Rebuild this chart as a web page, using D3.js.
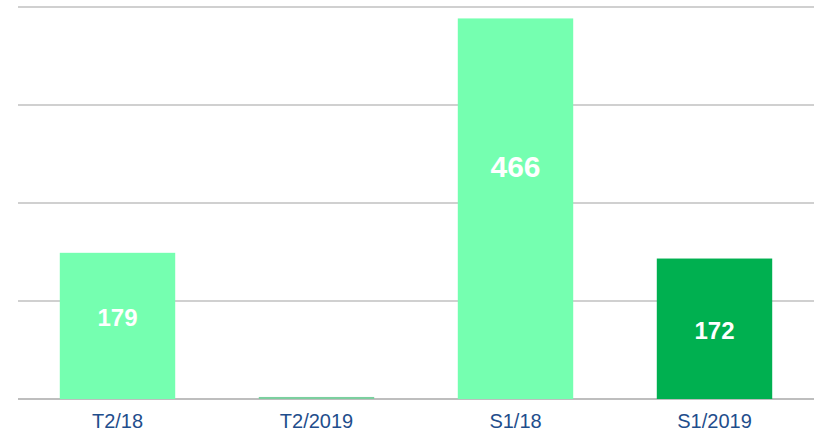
<!DOCTYPE html>
<html>
<head>
<meta charset="utf-8">
<script src="https://cdn.jsdelivr.net/npm/d3@7"></script>
<style>
  html, body { margin: 0; padding: 0; background: #ffffff; }
  svg { display: block; }
</style>
</head>
<body>
<svg id="chart" width="814" height="434"></svg>
<script>
// Data
const categories = ["T2/18", "T2/2019", "S1/18", "S1/2019"];
const values = [179, 2.5, 466, 172];
const valueLabels = ["179", "", "466", "172"];
const barColors = ["#75ffb0", "#7ccf9f", "#75ffb0", "#00b050"];
const gridTicks = [0, 120, 240, 360, 480];
// label vertical anchor as fraction of bar height from top (layout)
const labelAnchor = [0.44, 0.5, 0.39, 0.51];
const labelSizes = [24, 24, 30, 24];

const svg = d3.select("#chart");
const W = 814, H = 434;
const margin = { left: 18, right: 0, top: 7, bottom: 35 };

const x = d3.scaleBand()
  .domain(categories)
  .range([margin.left, W - margin.right])
  .paddingInner(0.42)
  .paddingOuter(0.21);

const y = d3.scaleLinear()
  .domain([0, 480])
  .range([H - margin.bottom, margin.top]);

// gridlines (including baseline)
svg.append("g")
  .selectAll("line")
  .data(gridTicks)
  .join("line")
  .attr("x1", margin.left)
  .attr("x2", W - margin.right)
  .attr("y1", d => y(d))
  .attr("y2", d => y(d))
  .attr("stroke", d => d === 0 ? "#a8a8a8" : "#c0c0c0")
  .attr("stroke-width", 1.5);

// bars
svg.append("g")
  .selectAll("rect")
  .data(values)
  .join("rect")
  .attr("x", (d, i) => x(categories[i]))
  .attr("width", x.bandwidth())
  .attr("y", d => y(d))
  .attr("height", d => y(0) - y(d))
  .attr("fill", (d, i) => barColors[i]);

// x axis labels
const xAxis = d3.axisBottom(x).tickSize(0).tickPadding(15);
const gx = svg.append("g")
  .attr("transform", `translate(0,${y(0)})`)
  .call(xAxis);
gx.select(".domain").remove();
gx.selectAll("text")
  .attr("font-family", "Liberation Sans, Arial, sans-serif")
  .attr("font-size", 20)
  .attr("fill", "#1f4e8c")
  .attr("dy", "0.71em");

// value labels
svg.append("g")
  .selectAll("text")
  .data(values)
  .join("text")
  .attr("x", (d, i) => x(categories[i]) + x.bandwidth() / 2)
  .attr("y", (d, i) => y(d) + (y(0) - y(d)) * labelAnchor[i])
  .attr("text-anchor", "middle")
  .attr("dominant-baseline", "central")
  .attr("font-family", "Liberation Sans, Arial, sans-serif")
  .attr("font-weight", "bold")
  .attr("font-size", (d, i) => labelSizes[i])
  .attr("fill", "#ffffff")
  .text((d, i) => valueLabels[i]);
</script>
</body>
</html>
